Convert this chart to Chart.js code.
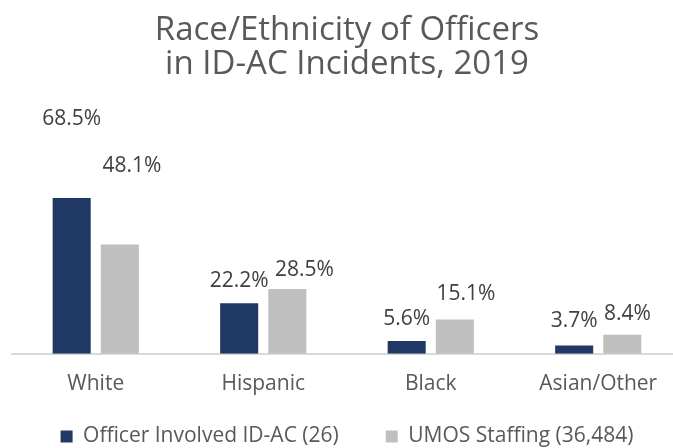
<!DOCTYPE html>
<html>
<head>
<meta charset="utf-8">
<script src="https://cdn.jsdelivr.net/npm/chart.js@4"></script>
<style>
  html, body { margin: 0; padding: 0; background: #fff; overflow: hidden; }
  #wrap { width: 695px; height: 448px; }
</style>
</head>
<body>
<div id="wrap"><canvas id="raceChart" width="695" height="448"></canvas></div>
<script>
const categories = ['White', 'Hispanic', 'Black', 'Asian/Other'];
const officerValues = [68.5, 22.2, 5.6, 3.7];
const staffingValues = [48.1, 28.5, 15.1, 8.4];
const seriesNames = ['Officer Involved ID-AC (26)', 'UMOS Staffing (36,484)'];

// label nudges (px) so they sit where the original put them
const labelShift = [
    [[0, 79], [0, 22], [0, 22], [0, 24]],
    [[12, 78], [17, 19], [11, 25], [5, 21]],
];

const FONT = "'Open Sans', sans-serif";

const valueLabels = {
    id: 'valueLabels',
    afterDatasetsDraw(chart) {
        const ctx = chart.ctx;
        ctx.save();
        ctx.font = '21px ' + FONT;
        ctx.fillStyle = '#404040';
        ctx.textAlign = 'center';
        ctx.textBaseline = 'middle';
        chart.data.datasets.forEach((ds, i) => {
            chart.getDatasetMeta(i).data.forEach((bar, j) => {
                const [dx, dy] = labelShift[i][j];
                ctx.fillText(ds.data[j].toFixed(1) + '%', bar.x + dx, bar.y - dy);
            });
        });
        ctx.restore();
    },
};

// the wide legend padding gives the item gap; pull the legend back up afterwards
const legendLift = {
    id: 'legendLift',
    afterLayout(chart) {
        const lift = 36;
        chart.legend.top -= lift;
        chart.legend.bottom -= lift;
    },
};

const ctx = document.getElementById('raceChart').getContext('2d');
const raceChart = new Chart(ctx, {
    type: 'bar',
    data: {
        labels: categories,
        datasets: [{
            label: seriesNames[0],
            data: officerValues,
            backgroundColor: '#203864',
        }, {
            label: seriesNames[1],
            data: staffingValues,
            backgroundColor: '#bfbfbf',
        }],
    },
    options: {
        responsive: false,
        animation: false,
        categoryPercentage: 0.575,
        barPercentage: 0.79,
        layout: {
            padding: { left: 12, right: 13, top: 0, bottom: -45 },
        },
        scales: {
            x: {
                grid: { display: false, drawTicks: false },
                border: { color: '#d9d9d9', width: 2 },
                ticks: {
                    color: '#595959',
                    font: { family: FONT, size: 21 },
                    padding: 18,
                },
            },
            y: {
                display: false,
                min: 0,
                max: 115,
            },
        },
        plugins: {
            title: {
                display: true,
                text: ['Race/Ethnicity of Officers', 'in ID-AC Incidents, 2019'],
                color: '#595959',
                font: { family: FONT, size: 33, weight: 'normal', lineHeight: 1.05 },
                padding: { top: 13, bottom: 10 },
            },
            legend: {
                position: 'bottom',
                labels: {
                    color: '#595959',
                    font: { family: FONT, size: 21 },
                    boxWidth: 12,
                    boxHeight: 12,
                    padding: 47,
                },
            },
            tooltip: { enabled: false },
        },
    },
    plugins: [valueLabels, legendLift],
});
</script>
</body>
</html>
